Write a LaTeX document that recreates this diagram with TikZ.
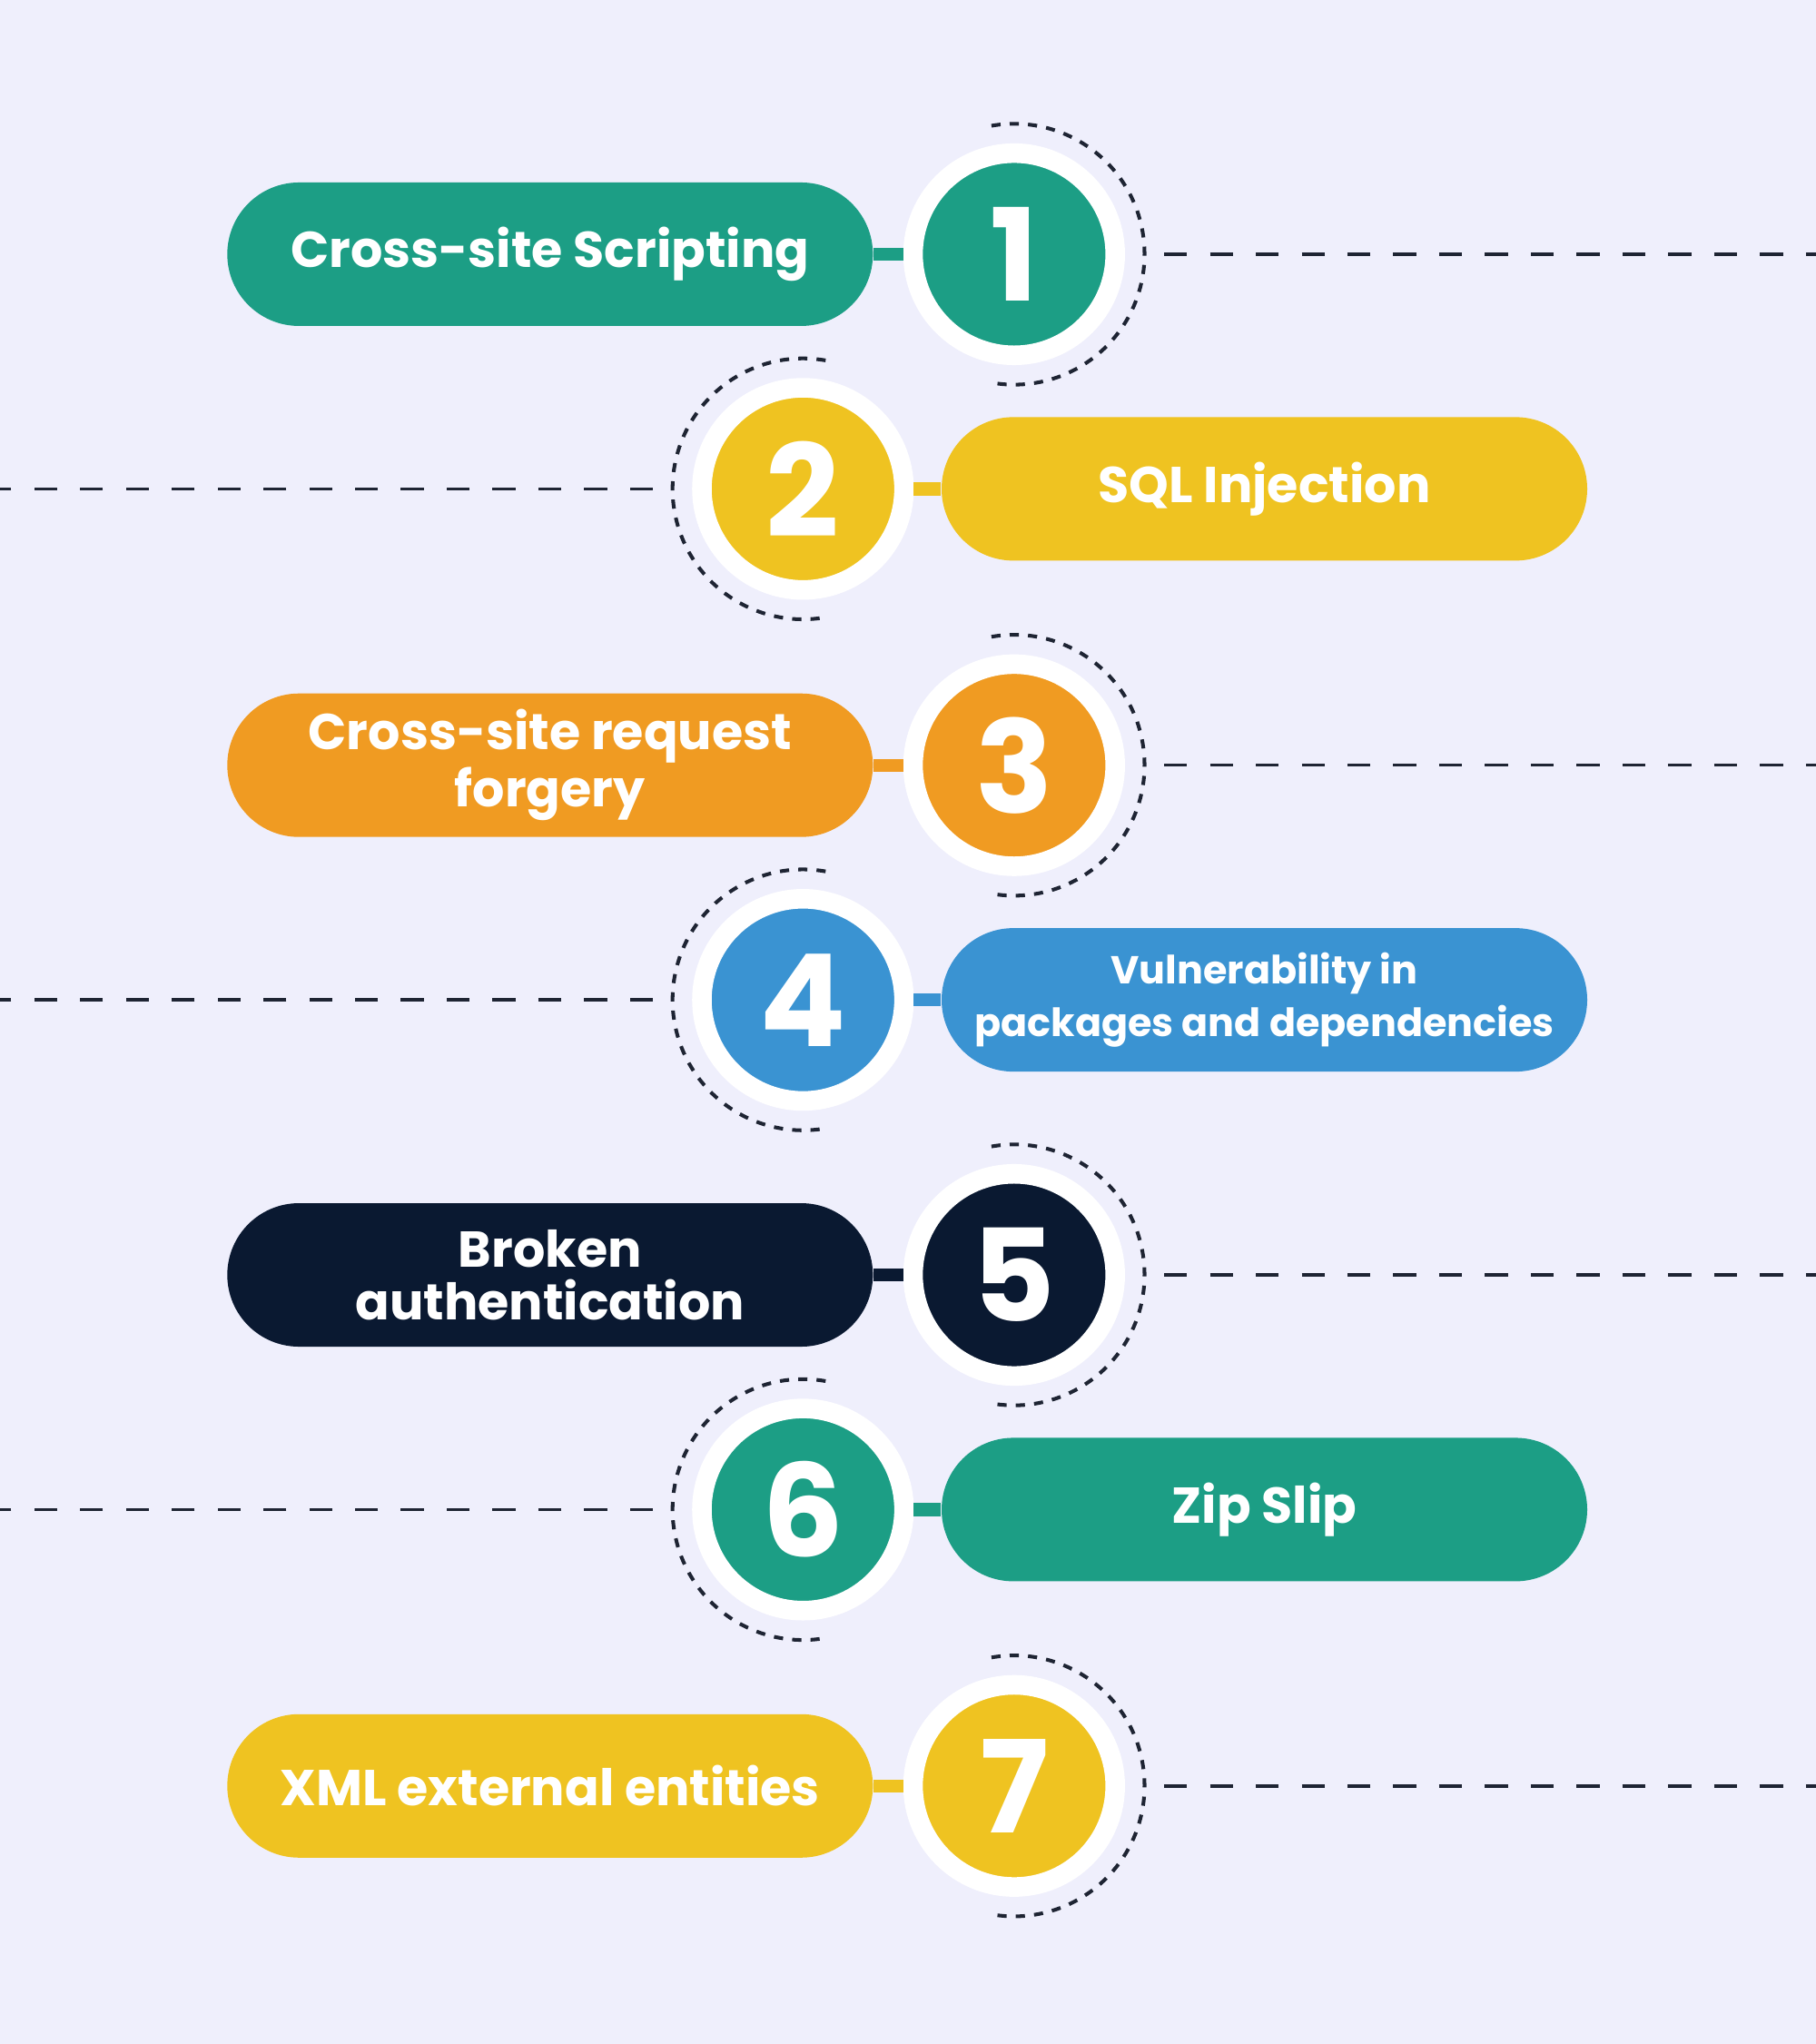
\documentclass[tikz,border=0pt]{standalone}
\usepackage{fontspec}
\setmainfont{Poppins}
\definecolor{bg}{HTML}{EFEFFC}
\definecolor{cteal}{HTML}{1C9E85}
\definecolor{cyel}{HTML}{EFC321}
\definecolor{corg}{HTML}{F09B22}
\definecolor{cblue}{HTML}{3A93D2}
\definecolor{cnavy}{HTML}{0A1931}
\definecolor{dk}{HTML}{1E2433}
\begin{document}
\begin{tikzpicture}[x=0.01cm,y=-0.01cm,
  pill/.style={fill=#1,rounded corners=0.55cm,minimum width=4.95cm,minimum height=1.1cm,text=white,font=\bfseries\fontsize{11}{11.5}\selectfont,align=center,inner sep=0pt},
  num/.style={circle,fill=#1,draw=white,line width=0.15cm,minimum size=1.55cm,text=white,font=\bfseries\fontsize{28}{28}\selectfont,inner sep=0pt},
  bar/.style={draw=#1,line width=0.1cm},
  dline/.style={draw=dk,line width=0.7pt,dash pattern=on 5pt off 5pt},
  darc/.style={draw=dk,line width=0.8pt,dash pattern=on 2pt off 2pt}]
\fill[bg] (0,0) rectangle (1393,1568);
\useasboundingbox (0,0) rectangle (1393,1568);
\foreach \i/\y/\c/\t in {1/195/cteal/{Cross-site Scripting}, 3/587/corg/{Cross-site request\\forgery}, 5/978/cnavy/{Broken\\authentication}, 7/1370/cyel/{XML external entities}}{
  \node[pill=\c] (p\i) at (422,\y) {\t};
  \node[num=\c] (c\i) at (778,\y) {\i};
  \draw[bar=\c] (p\i.east) -- (c\i.west);
  \coordinate (e\i) at (1393,\y);
  \draw[darc] ([shift={(100:1cm)}]c\i.center) arc[start angle=100,end angle=-100,radius=1cm];
  \draw[dline] ([xshift=0.3cm]c\i.east) -- (e\i);
}
\foreach \i/\y/\c/\t in {2/375/cyel/{SQL Injection}, 4/767/cblue/{\fontsize{8.5}{9.5}\selectfont Vulnerability in\\\fontsize{8.5}{9.5}\selectfont packages and dependencies}, 6/1158/cteal/{Zip Slip}}{
  \node[pill=\c] (p\i) at (970,\y) {\t};
  \node[num=\c] (c\i) at (616,\y) {\i};
  \draw[bar=\c] (c\i.east) -- (p\i.west);
  \coordinate (e\i) at (0,\y);
  \draw[darc] ([shift={(80:1cm)}]c\i.center) arc[start angle=80,end angle=280,radius=1cm];
  \draw[dline] ([xshift=-0.3cm]c\i.west) -- (e\i);
}
\end{tikzpicture}
\end{document}
